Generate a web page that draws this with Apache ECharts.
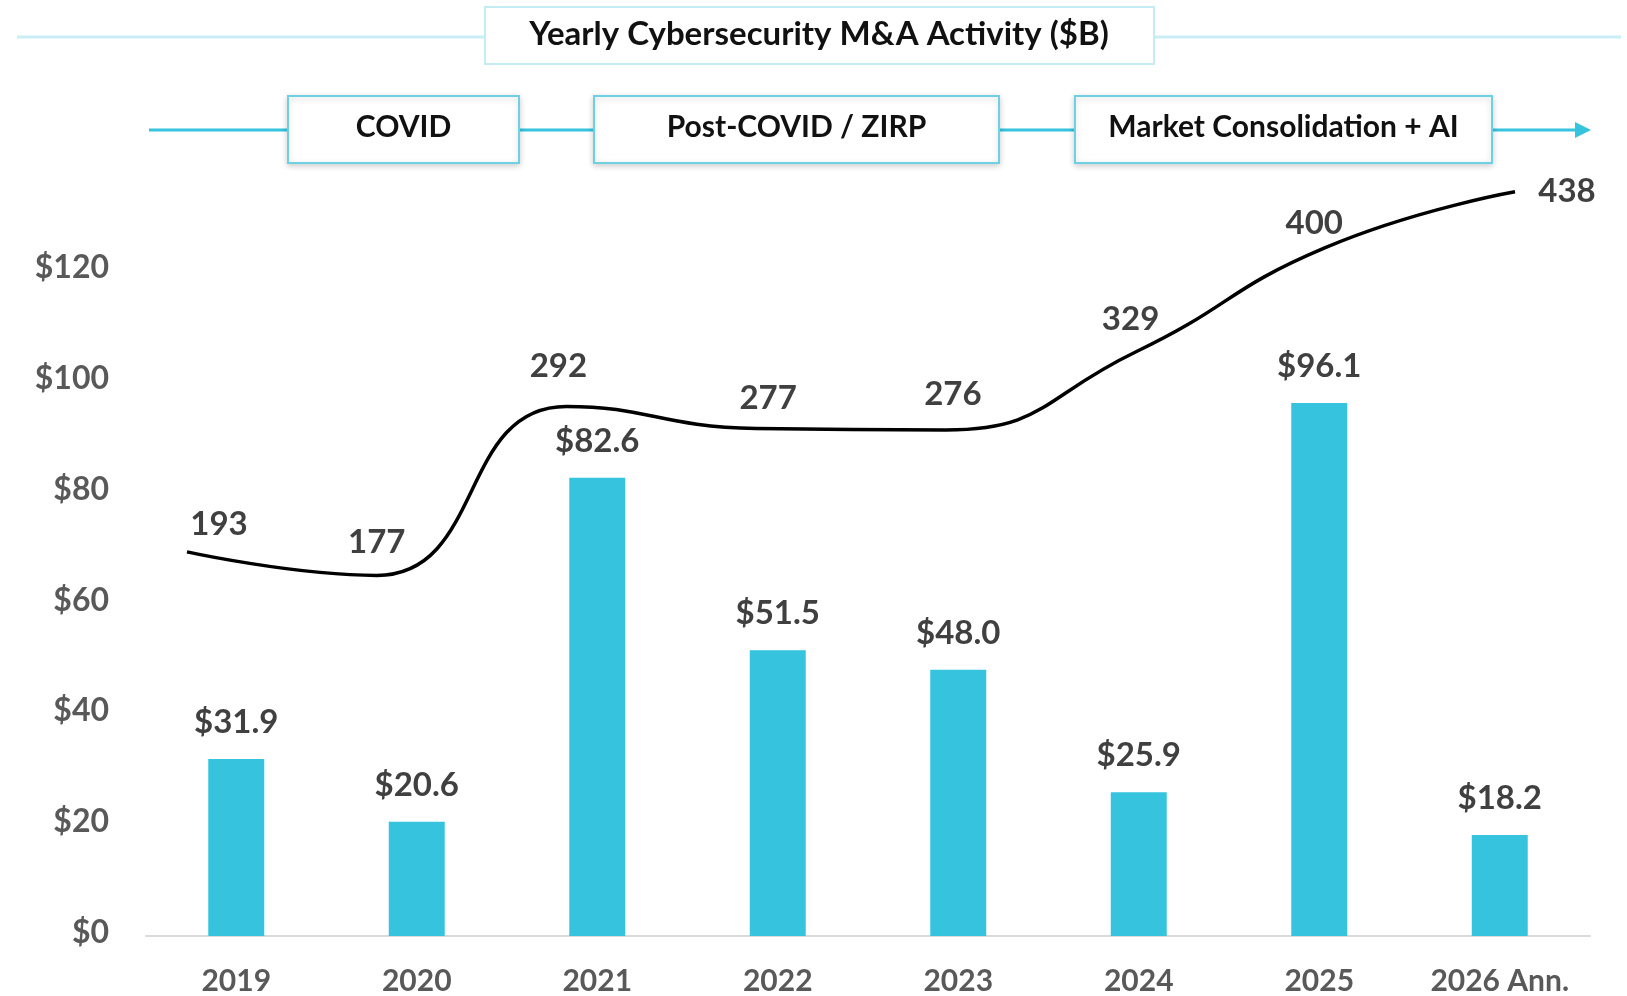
<!DOCTYPE html>
<html>
<head>
<meta charset="utf-8">
<title>Yearly Cybersecurity M&amp;A Activity ($B)</title>
<script src="https://cdn.jsdelivr.net/npm/echarts@6/dist/echarts.min.js"></script>
<style>
  html, body { margin: 0; padding: 0; background: #ffffff; }
  #chart { width: 1627px; height: 996px; }
</style>
</head>
<body>
<div id="chart"></div>
<script>
// Years on the category axis
const years = ['2019', '2020', '2021', '2022', '2023', '2024', '2025', '2026 Ann.'];
// Deal value in $B (bars)
const dealValue = [31.9, 20.6, 82.6, 51.5, 48.0, 25.9, 96.1, 18.2];
// Number of deals (line)
const dealCount = [193, 177, 292, 277, 276, 329, 400, 438];
// Value-axis ticks
const valueTicks = [0, 20, 40, 60, 80, 100, 120];
// Phase banners along the timeline
const phases = ['COVID', 'Post-COVID / ZIRP', 'Market Consolidation + AI'];
const chartTitle = 'Yearly Cybersecurity M&A Activity ($B)';

// Label nudges for the deal-count line, [dx, dy] in px from each point
const countLabelOffsets = [[32, -28], [0, -33], [-8, -40], [12, -30], [7, -36], [-5, -33], [-11, -24], [52, 0]];

const FONT = 'Lato, "Open Sans", sans-serif';
const CYAN = '#35c3dd';
const W = 1627;

const chart = echarts.init(document.getElementById('chart'), null, { renderer: 'canvas' });

const phaseBoxes = [
  { x: 288, y: 96, w: 231, h: 67 },
  { x: 594, y: 96, w: 405, h: 67 },
  { x: 1075, y: 96, w: 417, h: 67 }
];

const graphics = [
  // title rule across the page
  { type: 'line', z: 1, shape: { x1: 17, y1: 37, x2: 1621, y2: 37 },
    style: { stroke: '#c9eef5', lineWidth: 3 } },
  { type: 'rect', z: 2, shape: { x: 485, y: 7, width: 669, height: 57 },
    style: { fill: '#ffffff', stroke: '#c6ecf3', lineWidth: 2 } },
  { type: 'text', z: 3, x: 819, y: 34,
    style: { text: chartTitle, font: 'bold 33px ' + FONT, fill: '#111111', align: 'center', verticalAlign: 'middle' } },
  // timeline with arrow head
  { type: 'line', z: 1, shape: { x1: 149, y1: 130, x2: 1578, y2: 130 },
    style: { stroke: CYAN, lineWidth: 3 } },
  { type: 'polygon', z: 1, shape: { points: [[1575, 122], [1591, 130], [1575, 138]] },
    style: { fill: CYAN } }
];

phases.forEach(function (name, i) {
  const b = phaseBoxes[i];
  graphics.push({
    type: 'rect', z: 2, shape: { x: b.x, y: b.y, width: b.w, height: b.h },
    style: { fill: '#ffffff', stroke: '#6dd0e3', lineWidth: 2,
      shadowBlur: 6, shadowColor: 'rgba(0,0,0,0.18)', shadowOffsetY: 2 }
  });
  graphics.push({
    type: 'text', z: 3, x: b.x + b.w / 2, y: b.y + b.h / 2 - 2,
    style: { text: name, font: 'bold 30px ' + FONT, fill: '#111111', align: 'center', verticalAlign: 'middle' }
  });
});

const countData = dealCount.map(function (v, i) {
  return { value: v, label: { offset: countLabelOffsets[i] } };
});

const option = {
  backgroundColor: '#ffffff',
  animation: false,
  graphic: graphics,
  grid: [
    { left: 146, right: W - 1590, top: 159.5, bottom: 58 },
    { left: 187, right: W - 1515, top: 159.5, bottom: 160.5 }
  ],
  xAxis: [
    {
      type: 'category', gridIndex: 0, data: years,
      axisLine: { lineStyle: { color: '#d9d9d9', width: 2 } },
      axisTick: { show: false },
      axisLabel: { color: '#595959', fontFamily: FONT, fontWeight: 'bold', fontSize: 30, margin: 30 }
    },
    {
      type: 'category', gridIndex: 1, data: years, boundaryGap: false, show: false
    }
  ],
  yAxis: [
    {
      type: 'value', gridIndex: 0, min: 0, max: 140, interval: 20,
      axisLine: { show: false }, axisTick: { show: false }, splitLine: { show: false },
      axisLabel: {
        color: '#595959', fontFamily: FONT, fontWeight: 'bold', fontSize: 32, margin: 37,
        verticalAlign: 'bottom', lineHeight: 6,
        formatter: function (v) { return valueTicks.indexOf(v) >= 0 ? '$' + v : ''; }
      }
    },
    {
      type: 'value', gridIndex: 1, min: 0, max: 460, show: false
    }
  ],
  series: [
    {
      type: 'bar', xAxisIndex: 0, yAxisIndex: 0, data: dealValue,
      barWidth: '31%',
      itemStyle: { color: CYAN },
      label: {
        show: true, position: 'top', distance: 20,
        color: '#404040', fontFamily: FONT, fontWeight: 'bold', fontSize: 33,
        formatter: function (p) { return '$' + p.value.toFixed(1); }
      }
    },
    {
      type: 'line', xAxisIndex: 1, yAxisIndex: 1, data: countData,
      smooth: 0.5, symbol: 'circle', symbolSize: 1, showSymbol: true,
      itemStyle: { color: 'rgba(0,0,0,0)' },
      lineStyle: { color: '#000000', width: 3.5 },
      label: {
        show: true, position: 'inside',
        color: '#404040', fontFamily: FONT, fontWeight: 'bold', fontSize: 33
      }
    }
  ]
};

chart.setOption(option);
</script>
</body>
</html>
